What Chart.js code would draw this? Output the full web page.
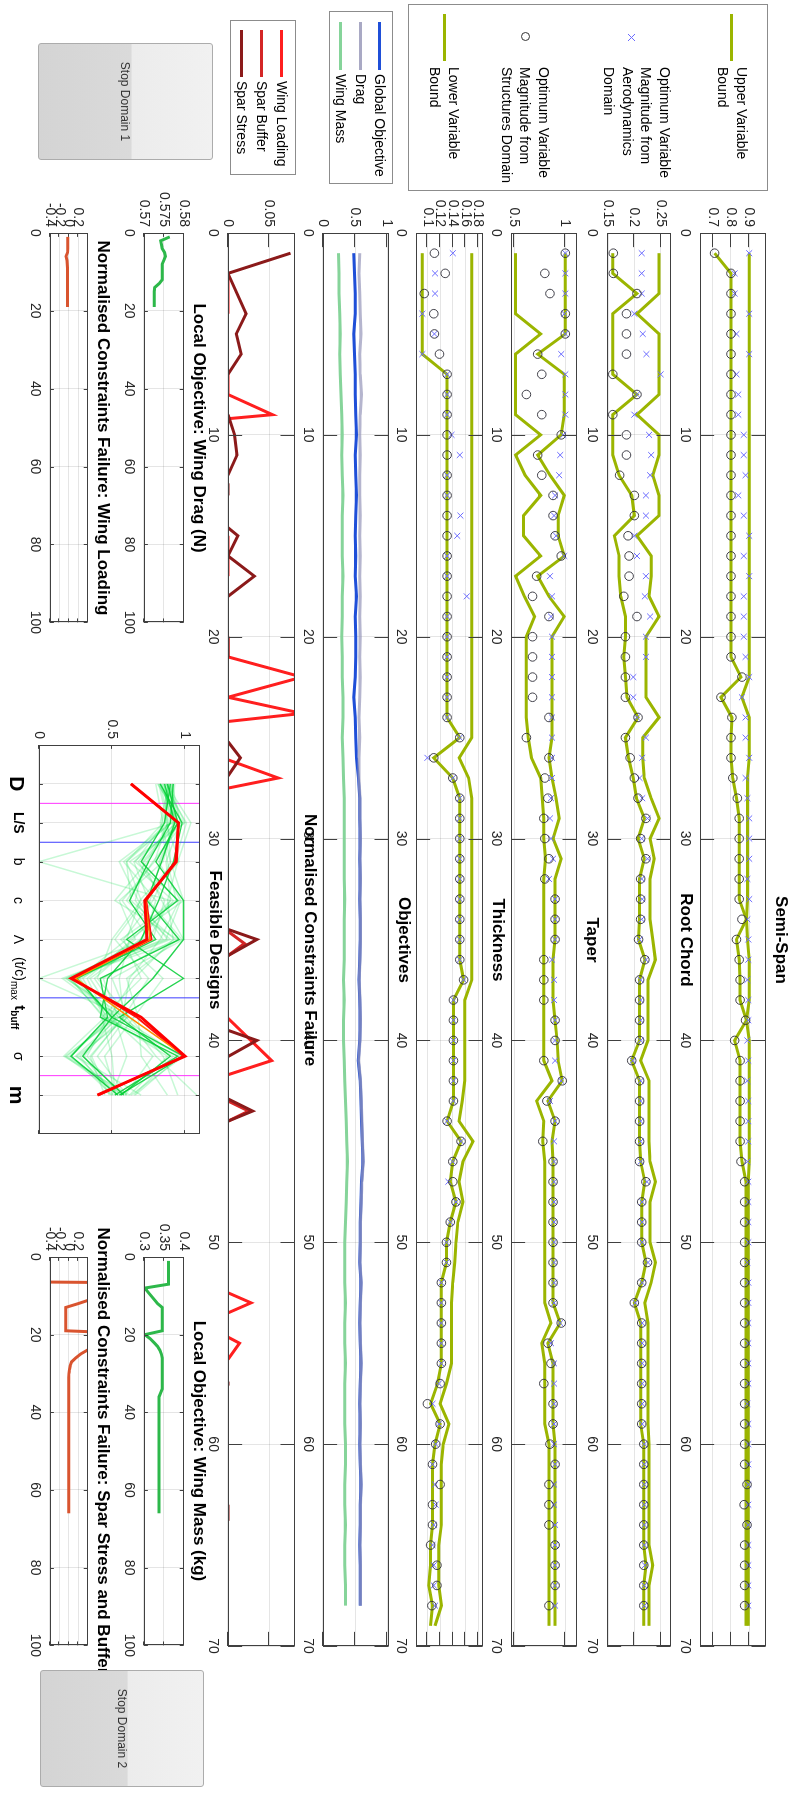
<!DOCTYPE html>
<html>
<head>
<meta charset="utf-8">
<script src="https://cdn.jsdelivr.net/npm/chart.js"></script>
<style>
html, body { margin: 0; padding: 0; background: #fff; overflow: hidden; }
#fig { position: absolute; left: 0; top: 0; width: 1793px; height: 788px; overflow: hidden; background: #fff;
  transform-origin: 0 0; transform: translate(788px, 0) rotate(90deg);
  font-family: "Liberation Sans", Arial, Helvetica, sans-serif; color: #000; }
#fig canvas { position: absolute; }
.ttl { position: absolute; font-weight: bold; font-size: 17px; white-space: nowrap; transform: translate(-50%, -50%); }
.lbox { position: absolute; border: 1px solid #8c8c8c; background: #fff; box-sizing: border-box; }
.ltxt { position: absolute; font-size: 14px; line-height: 18.7px; white-space: pre; color: #000; }
.btn { position: absolute; box-sizing: border-box; border: 1px solid #acacac; border-radius: 3px;
  background: linear-gradient(to bottom, #f1f1f1 0%, #ececec 46%, #dadada 47%, #d4d4d4 100%);
  font-size: 12px; color: #333; display: flex; align-items: center; justify-content: center; z-index: 5; }
</style>
</head>
<body>
<div id="fig"></div>
<script>
// iterations
var itB = [1,2,3,4,5,6,7,8,9,10,11,12,13,14,15,16,17,18,19,20,21,22,23,24,25,26,27,28,29,30,31,32,33,34,35,36,37,38,39,40,41,42,43,44,45,46,47,48,49,50,51,52,53,54,55,56,57,58,59,60,61,62,63,64,65,66,67,68,69];
var itM = [1,2,3,4,5,6,7,8,9,10,11,12,13,14,15,16,17,18,19,20,21,22,23,24,25,26,27,28,29,30,31,32,33,34,35,36,37,38,39,40,41,42,43,44,45,46,47,48,49,50,51,52,53,54,55,56,57,58,59,60,61,62,63,64,65,66,67,68];

// Semi-Span
var ssUpper = [0.9,0.9,0.9,0.9,0.9,0.9,0.9,0.9,0.9,0.9,
  0.9,0.9,0.9,0.9,0.9,0.9,0.9,0.9,0.9,0.9,
  0.9,0.9,0.86,0.9,0.9,0.9,0.89,0.89,0.89,0.89,
  0.89,0.89,0.89,0.885,0.89,0.9,0.9,0.9,0.885,0.9,
  0.9,0.9,0.9,0.9,0.9,0.9,0.895,0.895,0.895,0.895,
  0.895,0.895,0.895,0.895,0.895,0.895,0.895,0.895,0.895,0.895,
  0.895,0.895,0.895,0.895,0.895,0.895,0.895,0.895,0.895];
var ssLower = [0.71,0.8,0.8,0.8,0.8,0.8,0.8,0.8,0.8,0.8,
  0.8,0.8,0.8,0.8,0.8,0.8,0.8,0.8,0.8,0.8,
  0.8,0.855,0.745,0.805,0.8,0.8,0.81,0.83,0.845,0.845,
  0.845,0.845,0.845,0.885,0.83,0.845,0.85,0.85,0.885,0.82,
  0.85,0.85,0.85,0.85,0.85,0.86,0.882,0.882,0.882,0.882,
  0.882,0.882,0.882,0.882,0.882,0.882,0.882,0.882,0.882,0.882,
  0.882,0.882,0.882,0.882,0.882,0.882,0.882,0.882,0.882];
var ssStruct = [0.71,0.8,0.8,0.8,0.8,0.8,0.8,0.8,0.8,0.8,
  0.8,0.8,0.8,0.8,0.8,0.8,0.8,0.8,0.8,0.8,
  0.8,0.86,0.745,0.805,0.8,0.8,0.81,0.835,0.845,0.845,
  0.845,0.845,0.845,0.86,0.83,0.845,0.85,0.85,0.88,0.82,
  0.85,0.85,0.85,0.85,0.85,0.855,0.875,0.875,0.875,0.875,
  0.875,0.875,0.875,0.875,0.875,0.875,0.875,0.875,0.875,0.875,
  0.875,0.888,0.872,0.888,0.875,0.875,0.875,0.875];
var ssAero = [0.9,0.82,0.82,0.9,0.83,0.9,0.83,0.84,0.84,0.87,
  0.87,0.88,0.84,0.87,0.9,0.87,0.9,0.87,0.87,0.87,
  0.88,0.9,0.86,0.88,0.88,0.9,0.88,0.89,0.9,0.9,
  0.9,0.89,0.9,0.89,0.895,0.895,0.89,0.895,0.895,0.89,
  0.895,0.89,0.895,0.895,0.895,0.89,0.895,0.895,0.895,0.895,
  0.89,0.895,0.895,0.895,0.895,0.895,0.895,0.89,0.895,0.895,
  0.895,0.895,0.895,0.895,0.895,0.895,0.895,0.895];

// Root Chord
var rcUpper = [0.247,0.247,0.247,0.205,0.247,0.247,0.247,0.247,0.205,0.247,
  0.247,0.235,0.247,0.247,0.205,0.232,0.232,0.228,0.247,0.222,
  0.222,0.222,0.222,0.247,0.216,0.216,0.219,0.232,0.247,0.23,
  0.238,0.23,0.23,0.23,0.235,0.24,0.226,0.226,0.226,0.226,
  0.212,0.228,0.228,0.228,0.228,0.23,0.24,0.23,0.23,0.23,
  0.24,0.232,0.22,0.226,0.226,0.226,0.226,0.226,0.226,0.228,
  0.228,0.228,0.228,0.228,0.228,0.235,0.228,0.228,0.228];
var rcLower = [0.159,0.159,0.205,0.159,0.159,0.159,0.159,0.205,0.159,0.159,
  0.159,0.171,0.195,0.2,0.162,0.171,0.171,0.174,0.183,0.183,
  0.18,0.183,0.186,0.207,0.183,0.189,0.198,0.204,0.219,0.207,
  0.219,0.21,0.21,0.21,0.208,0.22,0.21,0.21,0.21,0.21,
  0.195,0.21,0.21,0.21,0.21,0.212,0.22,0.214,0.214,0.214,
  0.222,0.214,0.2,0.212,0.212,0.212,0.212,0.212,0.212,0.218,
  0.218,0.218,0.218,0.218,0.218,0.222,0.218,0.218,0.218];
var rcStruct = [0.16,0.16,0.205,0.185,0.185,0.185,0.159,0.205,0.159,0.185,
  0.185,0.172,0.2,0.2,0.188,0.19,0.19,0.18,0.205,0.183,
  0.183,0.183,0.183,0.207,0.183,0.192,0.2,0.207,0.222,0.212,
  0.222,0.212,0.212,0.212,0.208,0.22,0.21,0.21,0.21,0.21,
  0.195,0.21,0.21,0.21,0.21,0.21,0.222,0.214,0.214,0.214,
  0.225,0.214,0.2,0.214,0.214,0.214,0.214,0.214,0.214,0.218,
  0.218,0.218,0.218,0.218,0.218,0.218,0.218,0.218];
var rcAero = [0.214,0.214,0.214,0.2,0.216,0.223,0.25,0.205,0.2,0.228,
  0.232,0.23,0.222,0.222,0.2,0.205,0.222,0.22,0.23,0.222,
  0.222,0.198,0.198,0.205,0.222,0.215,0.21,0.215,0.225,0.214,
  0.225,0.214,0.215,0.214,0.21,0.222,0.212,0.212,0.212,0.212,
  0.197,0.212,0.212,0.212,0.212,0.212,0.224,0.215,0.215,0.215,
  0.226,0.215,0.202,0.215,0.215,0.215,0.215,0.215,0.215,0.219,
  0.219,0.219,0.219,0.219,0.219,0.22,0.219,0.219];

// Taper
var tpUpper = [1.0,1.0,1.0,1.0,1.0,0.73,0.99,0.99,0.99,0.96,
  0.73,0.85,0.99,0.93,0.93,0.99,0.73,0.84,0.99,0.87,
  0.87,0.87,0.87,0.87,0.87,0.84,0.87,0.91,0.94,0.88,
  0.96,0.9,0.9,0.9,0.9,0.88,0.88,0.88,0.9,0.92,
  0.93,0.97,0.83,0.9,0.87,0.88,0.88,0.88,0.88,0.88,
  0.88,0.88,0.88,0.95,0.83,0.88,0.88,0.88,0.88,0.9,
  0.9,0.9,0.9,0.9,0.9,0.9,0.9,0.9,0.9];
var tpLower = [0.515,0.515,0.515,0.515,0.76,0.515,0.515,0.515,0.515,0.76,
  0.515,0.607,0.76,0.592,0.592,0.76,0.515,0.6,0.7,0.62,
  0.62,0.62,0.62,0.62,0.638,0.67,0.76,0.776,0.79,0.79,
  0.807,0.79,0.79,0.79,0.79,0.79,0.79,0.79,0.79,0.79,
  0.79,0.87,0.72,0.79,0.78,0.8,0.8,0.8,0.8,0.8,
  0.8,0.8,0.8,0.86,0.77,0.8,0.8,0.8,0.8,0.84,
  0.84,0.84,0.84,0.84,0.84,0.84,0.84,0.84,0.84];
var tpStruct = [1.0,0.8,0.85,1.0,1.0,0.73,0.77,0.62,0.77,0.96,
  0.73,0.77,0.88,0.88,0.9,0.96,0.72,0.68,0.84,0.68,
  0.68,0.68,0.68,0.84,0.62,0.84,0.8,0.83,0.79,0.8,
  0.84,0.8,0.9,0.9,0.9,0.79,0.79,0.79,0.9,0.9,
  0.79,0.97,0.82,0.9,0.78,0.88,0.88,0.88,0.88,0.88,
  0.88,0.88,0.88,0.96,0.83,0.86,0.79,0.88,0.88,0.85,
  0.9,0.84,0.84,0.84,0.9,0.9,0.9,0.84];
var tpAero = [1.0,1.0,1.0,0.99,1.0,0.96,1.0,1.0,1.0,0.98,
  0.95,0.94,0.9,0.89,0.91,0.99,0.85,0.87,0.86,0.87,
  0.87,0.87,0.87,0.87,0.87,0.87,0.87,0.86,0.85,0.86,
  0.88,0.84,0.9,0.9,0.9,0.87,0.89,0.89,0.9,0.9,
  0.9,0.96,0.85,0.9,0.89,0.89,0.89,0.89,0.89,0.89,
  0.89,0.89,0.89,0.95,0.86,0.89,0.89,0.89,0.89,0.89,
  0.9,0.89,0.89,0.9,0.9,0.9,0.9,0.9];

// Thickness
var thUpper = [0.17,0.17,0.17,0.17,0.17,0.17,0.17,0.17,0.17,0.17,
  0.17,0.17,0.17,0.17,0.17,0.17,0.17,0.17,0.17,0.17,
  0.17,0.17,0.17,0.17,0.17,0.15,0.165,0.17,0.17,0.17,
  0.17,0.17,0.17,0.17,0.17,0.17,0.17,0.159,0.159,0.159,
  0.159,0.159,0.155,0.15,0.172,0.156,0.15,0.156,0.148,0.145,
  0.143,0.14,0.138,0.138,0.138,0.138,0.13,0.12,0.134,0.125,
  0.122,0.122,0.122,0.122,0.118,0.118,0.118,0.122,0.112];
var thLower = [0.092,0.092,0.092,0.092,0.092,0.092,0.131,0.131,0.131,0.131,
  0.131,0.131,0.131,0.131,0.131,0.131,0.131,0.131,0.131,0.131,
  0.131,0.131,0.131,0.131,0.151,0.11,0.14,0.151,0.151,0.151,
  0.151,0.151,0.151,0.151,0.151,0.151,0.157,0.141,0.141,0.141,
  0.141,0.141,0.141,0.131,0.153,0.14,0.136,0.145,0.136,0.13,
  0.13,0.122,0.122,0.122,0.122,0.122,0.116,0.105,0.12,0.112,
  0.108,0.108,0.108,0.108,0.105,0.105,0.102,0.108,0.105];
var thStruct = [0.111,0.128,0.095,0.11,0.111,0.119,0.131,0.131,0.131,0.131,
  0.131,0.131,0.131,0.131,0.131,0.131,0.131,0.131,0.131,0.131,
  0.131,0.131,0.131,0.131,0.151,0.11,0.14,0.151,0.151,0.151,
  0.151,0.151,0.151,0.151,0.151,0.151,0.157,0.141,0.141,0.141,
  0.141,0.141,0.141,0.131,0.153,0.14,0.14,0.145,0.136,0.13,
  0.13,0.122,0.122,0.122,0.122,0.122,0.12,0.1,0.12,0.113,
  0.108,0.12,0.108,0.108,0.105,0.115,0.115,0.107];
var thAero = [0.14,0.112,0.112,0.092,0.111,0.092,0.131,0.131,0.131,0.138,
  0.151,0.131,0.131,0.152,0.147,0.131,0.131,0.162,0.131,0.131,
  0.131,0.131,0.131,0.131,0.151,0.1,0.14,0.151,0.151,0.151,
  0.151,0.151,0.151,0.151,0.151,0.151,0.157,0.141,0.141,0.141,
  0.141,0.141,0.141,0.131,0.153,0.14,0.133,0.145,0.136,0.13,
  0.13,0.122,0.122,0.122,0.122,0.122,0.118,0.108,0.118,0.113,
  0.108,0.112,0.113,0.11,0.108,0.11,0.11,0.112];

// Objectives
var objGlobal = [0.48,0.49,0.5,0.5,0.48,0.49,0.5,0.5,0.51,0.52,
  0.5,0.51,0.52,0.51,0.5,0.51,0.5,0.52,0.5,0.51,
  0.51,0.5,0.48,0.5,0.51,0.52,0.55,0.57,0.57,0.58,
  0.57,0.58,0.57,0.58,0.58,0.57,0.56,0.57,0.58,0.57,
  0.55,0.58,0.59,0.6,0.61,0.62,0.6,0.59,0.58,0.58,
  0.57,0.59,0.58,0.57,0.58,0.59,0.58,0.57,0.58,0.57,
  0.58,0.59,0.58,0.58,0.57,0.58,0.58,0.58];
var objDrag = [0.57,0.56,0.57,0.58,0.59,0.57,0.58,0.6,0.58,0.57,
  0.58,0.57,0.57,0.58,0.57,0.58,0.57,0.58,0.57,0.58,
  0.57,0.58,0.57,0.56,0.57,0.56,0.56,0.575,0.575,0.585,
  0.575,0.585,0.575,0.585,0.585,0.575,0.565,0.575,0.585,0.575,
  0.555,0.585,0.595,0.605,0.615,0.625,0.605,0.595,0.585,0.585,
  0.575,0.595,0.585,0.575,0.585,0.595,0.585,0.575,0.585,0.575,
  0.585,0.595,0.585,0.585,0.575,0.585,0.585,0.585];
var objMass = [0.24,0.25,0.25,0.26,0.27,0.26,0.27,0.28,0.29,0.3,
  0.29,0.3,0.31,0.3,0.3,0.3,0.31,0.3,0.3,0.29,
  0.3,0.3,0.31,0.31,0.3,0.31,0.32,0.33,0.33,0.33,
  0.33,0.33,0.34,0.33,0.33,0.33,0.32,0.33,0.32,0.32,
  0.33,0.34,0.35,0.36,0.37,0.38,0.37,0.36,0.35,0.34,
  0.34,0.34,0.35,0.34,0.34,0.35,0.34,0.34,0.34,0.35,
  0.35,0.34,0.34,0.35,0.34,0.34,0.35,0.35];

// Normalised constraints failure (null = break in line)
var wlX = [2,4,null, 7,8,9,9.2,null, 15,17,null, 20,21,22,23,23.8,24.2,null, 26.1,27,27.5,null, 38.9,41,41.7,null, 52.5,53,53.5,null, 54.7,55,55.8];
var wlY = [0,0,null, 0,0,0.054,0,null, 0,0,null, 0,0,0.09,0,0.09,0,null, 0,0.061,0,null, 0,0.053,0,null, 0,0.028,0,null, 0,0.014,0];
var sbX = [34.6,35.2,35.8,null, 43,43.5,44];
var sbY = [0,0.02,0,null, 0,0.025,0];
var stX = [1,2,4,5,6,7,null, 9,10,11,12,null, 12.4,13,null, 14.6,15,16,17,18,null, 20,21,null, 25.2,26,26.9,null, 34.5,35,35.8,null, 39.5,40,40.8,null, 42.9,43.5,44,null, 56.9,57.1,null, 63,63.8];
var stY = [0.076,0,0.022,0.01,0.016,0,null, 0,0.008,0.011,0,null, 0,0,null, 0,0.012,0,0.032,0,null, 0,0,null, 0,0.015,0,null, 0,0.035,0,null, 0,0.035,0,null, 0,0.03,0,null, 0,0,null, 0,0];

// Local optimisations
var it19 = [1,2,3,4,5,6,7,8,9,10,11,12,13,14,15,16,17,18,19];
var dragLocal = [0.5765,0.5742,0.5744,0.5746,0.5752,0.5754,0.575,0.5746,0.5746,0.5746,0.5746,0.5746,0.5738,0.5727,0.5726,0.5726,0.5726,0.5726,0.5726];
var wingLoadLocal = [-0.02,-0.02,-0.02,-0.02,-0.025,-0.06,-0.04,-0.035,-0.03,-0.03,-0.03,-0.03,-0.03,-0.03,-0.03,-0.03,-0.03,-0.03,-0.03];
var it66 = [1,2,3,4,5,6,7,8,9,10,11,12,13,14,15,16,17,18,19,20,21,22,23,24,25,26,27,28,29,30,31,32,33,34,35,36,37,38,39,40,41,42,43,44,45,46,47,48,49,50,51,52,53,54,55,56,57,58,59,60,61,62,63,64,65,66];
var massLocal = [0.362,0.362,0.362,0.362,0.362,0.362,0.362,0.302,0.31,0.318,
  0.326,0.334,0.346,0.346,0.346,0.346,0.346,0.346,0.346,0.302,
  0.315,0.325,0.334,0.34,0.344,0.346,0.346,0.346,0.346,0.346,
  0.346,0.346,0.346,0.346,0.342,0.338,0.338,0.338,0.338,0.338,
  0.338,0.338,0.338,0.338,0.338,0.338,0.338,0.338,0.338,0.338,
  0.338,0.338,0.338,0.338,0.338,0.338,0.338,0.338,0.338,0.338,
  0.338,0.338,0.338,0.338,0.338,0.338];
var sparLocal = [-5,-5,-5,-5,-5,-5,5,1,1,1,
  0.45,0.2,-0.067,-0.067,-0.067,-0.067,-0.067,-0.067,-0.067,2,
  1,1,1,0.39,0.25,0.15,0.06,0.03,0.015,0.005,
  0,0,0,0,0,0,0,0,0,0,
  0,0,0,0,0,0,0,0,0,0,
  0,0,0,0,0,0,0,0,0,0,
  0,0,0,0,0,0];

// Feasible designs (parallel coordinates)
var fdCats = [1,2,3,4,5,6,7,8,9];
var fdLabels = ['D','L/S','b','c','\u039B','(t/c)','t','\u03C3','m'];
var fdSubs = ['','','','','','max','buff','',''];
var fdDividers = [1.5,2.5,6.5,8.5];
var fdBest = [0.63,0.955,0.94,0.725,0.74,0.22,0.7,1.0,0.4];
var fdBest2 = [0.63,0.955,0.932,0.735,0.77,0.23,0.67,0.99,0.41];
var fdOrange = [0.63,0.955,0.94,0.73,0.76,0.25,0.62,1.0,0.4];
var fdDark = [
  [0.88,0.95,0.8,0.99,0.99,0.78,0.5,0.3,0.58],
  [0.9,0.86,0.7,0.95,0.6,0.99,0.55,0.9,0.56],
  [0.83,0.98,0.92,0.82,0.7,0.47,0.42,0.95,0.52],
  [0.92,0.9,0.75,0.62,0.8,0.26,0.5,0.99,0.55],
  [0.86,0.93,0.84,0.74,0.96,0.42,0.47,0.22,0.54]
];
var fdLight = [
  [0.85,0.93,0.0,0.9,0.75,0.0,0.6,0.4,0.6],
  [0.8,0.85,0.6,0.7,0.5,0.4,0.62,0.85,0.95],
  [0.87,1.04,0.95,0.88,0.92,0.65,0.48,0.22,0.5],
  [0.84,0.92,0.85,0.55,0.66,0.3,0.45,0.17,0.62],
  [0.91,0.97,0.65,0.75,0.98,0.2,0.55,0.25,0.7],
  [0.86,0.88,0.9,0.99,0.62,0.55,0.58,0.35,0.45],
  [0.82,0.96,0.72,0.66,0.85,0.18,0.6,0.8,1.08],
  [0.89,0.83,0.88,0.94,0.56,0.85,0.65,0.45,0.53],
  [0.93,0.91,0.58,0.8,0.72,0.35,0.52,0.6,0.5],
  [0.81,0.99,0.78,0.6,0.9,0.22,0.44,0.92,0.65],
  [0.88,0.87,0.96,0.72,0.52,0.75,0.58,0.28,0.49],
  [0.84,0.94,0.68,0.86,0.78,0.28,0.47,0.33,0.56],
  [0.9,0.95,0.82,0.97,0.87,0.16,0.52,0.19,0.6],
  [0.83,0.89,0.74,0.52,0.95,0.6,0.68,0.7,0.88],
  [0.87,1.0,0.62,0.92,0.69,0.38,0.56,0.97,0.66],
  [0.92,0.84,0.9,0.78,0.58,0.7,0.43,0.5,0.52],
  [0.86,0.9,0.55,0.68,0.88,0.24,0.5,0.21,0.57],
  [0.89,0.97,0.87,0.9,0.64,0.33,0.46,0.88,0.62],
  [0.82,0.88,0.79,0.57,0.76,0.19,0.53,0.31,0.51],
  [0.91,0.93,0.71,0.84,0.99,0.5,0.61,0.26,0.54],
  [0.85,1.01,0.93,0.69,0.6,0.27,0.49,0.78,0.59],
  [0.88,0.86,0.66,0.96,0.83,0.62,0.57,0.36,0.48],
  [0.83,0.95,0.83,0.76,0.71,0.21,0.45,0.99,0.63],
  [0.9,0.9,0.6,0.63,0.93,0.44,0.54,0.18,0.55]
];

var FONT = '"Liberation Sans", Arial, Helvetica, sans-serif';
Chart.defaults.font.family = FONT;
Chart.defaults.color = '#262626';

var BOUND = '#9bb500';
var GRID = 'rgba(0,0,0,0.1)';
var fig = document.getElementById('fig');

function pts(xs, ys) {
  var out = [], lastX = 0;
  for (var i = 0; i < ys.length; i++) {
    if (xs[i] !== null) lastX = xs[i];
    out.push({x: lastX, y: ys[i]});
  }
  return out;
}

// MATLAB-like box with inward ticks on all four sides
var matAxes = {
  id: 'matAxes',
  afterDraw: function (chart) {
    var ctx = chart.ctx, a = chart.chartArea, sx = chart.scales.x, sy = chart.scales.y;
    var L = Math.max(a.right - a.left, a.bottom - a.top) * 0.01;
    ctx.save();
    ctx.strokeStyle = '#404040';
    ctx.lineWidth = 1;
    ctx.beginPath();
    sx.ticks.forEach(function (t) {
      var p = Math.round(sx.getPixelForValue(t.value)) + 0.5;
      ctx.moveTo(p, a.bottom); ctx.lineTo(p, a.bottom - L);
      ctx.moveTo(p, a.top); ctx.lineTo(p, a.top + L);
    });
    sy.ticks.forEach(function (t) {
      var p = Math.round(sy.getPixelForValue(t.value)) + 0.5;
      ctx.moveTo(a.left, p); ctx.lineTo(a.left + L, p);
      ctx.moveTo(a.right, p); ctx.lineTo(a.right - L, p);
    });
    ctx.stroke();
    ctx.strokeRect(Math.round(a.left) + 0.5, Math.round(a.top) + 0.5, Math.round(a.right - a.left) - 1, Math.round(a.bottom - a.top) - 1);
    ctx.restore();
  }
};

function axis(kind, s, size) {
  return {
    type: 'linear',
    position: kind === 'x' ? 'bottom' : 'left',
    min: s.min, max: s.max,
    afterBuildTicks: function (sc) { sc.ticks = s.ticks.map(function (v) { return {value: v}; }); },
    afterFit: function (sc) { if (kind === 'x') sc.height = size; else sc.width = size; },
    grid: {color: GRID, drawTicks: false, lineWidth: 1},
    border: {display: false},
    ticks: {display: s.show !== false, autoSkip: false, maxRotation: 0, minRotation: 0,
      padding: kind === 'x' ? 7 : 6, color: '#262626', font: {size: 14},
      callback: function (v) { return String(v); }}
  };
}

function panel(box, xs, ys, datasets, extra) {
  var L = 90, T = 12, R = 18, B = 34;
  var cv = document.createElement('canvas');
  cv.width = box[2] - box[0] + L + R;
  cv.height = box[3] - box[1] + T + B;
  cv.style.left = (box[0] - L) + 'px';
  cv.style.top = (box[1] - T) + 'px';
  fig.appendChild(cv);
  return new Chart(cv, {
    type: 'line',
    data: {datasets: datasets},
    options: {
      responsive: false, animation: false, events: [],
      layout: {padding: {left: 0, right: R, top: T, bottom: 0}},
      plugins: {legend: {display: false}, tooltip: {enabled: false}},
      scales: {x: axis('x', xs, B), y: axis('y', ys, L)}
    },
    plugins: [matAxes].concat(extra || [])
  });
}

function lineDs(data, color, width) {
  return {data: data, borderColor: color, borderWidth: width, pointRadius: 0, tension: 0, fill: false, spanGaps: false};
}
function markDs(data, style, color, r) {
  return {data: data, showLine: false, pointStyle: style, pointRadius: r, pointBorderColor: color,
    pointBackgroundColor: 'rgba(0,0,0,0)', pointBorderWidth: 1, borderColor: color};
}

var iterAxis = {min: 0, max: 70, ticks: [0,10,20,30,40,50,60,70]};

function designPanel(box, yAxis, up, lo, st, ae) {
  panel(box, iterAxis, yAxis, [
    markDs(pts(itM, st), 'circle', 'rgba(45,45,55,0.9)', 4.3),
    markDs(pts(itM, ae), 'crossRot', '#6b6bff', 4.2),
    lineDs(pts(itB, up), BOUND, 3),
    lineDs(pts(itB, lo), BOUND, 3)
  ]);
}

designPanel([233, 20, 1646, 88], {min: 0.63, max: 0.99, ticks: [0.7, 0.8, 0.9]}, ssUpper, ssLower, ssStruct, ssAero);
designPanel([233, 115, 1646, 181], {min: 0.148, max: 0.269, ticks: [0.15, 0.2, 0.25]}, rcUpper, rcLower, rcStruct, rcAero);
designPanel([233, 209, 1646, 277], {min: 0.47, max: 1.11, ticks: [0.5, 1]}, tpUpper, tpLower, tpStruct, tpAero);
designPanel([233, 303, 1646, 372], {min: 0.082, max: 0.187, ticks: [0.1, 0.12, 0.14, 0.16, 0.18]}, thUpper, thLower, thStruct, thAero);

panel([233, 397, 1646, 465], iterAxis, {min: 0, max: 1.02, ticks: [0, 0.5, 1]}, [
  lineDs(pts(itM, objDrag), 'rgba(150,150,185,0.7)', 3),
  lineDs(pts(itM, objGlobal), '#1f4fd8', 3),
  lineDs(pts(itM, objMass), '#86d49a', 3)
]);

panel([233, 491, 1646, 560], iterAxis, {min: 0, max: 0.081, ticks: [0, 0.05]}, [
  lineDs(pts(stX, stY), '#8b1a1a', 3),
  lineDs(pts(sbX, sbY), '#d42626', 3),
  lineDs(pts(wlX, wlY), '#ff1f1f', 3)
]);

var localAxis = {min: 0, max: 100, ticks: [0, 20, 40, 60, 80, 100]};
var consAxis = {min: -0.4, max: 0.4, ticks: [-0.4, -0.2, 0, 0.2]};

panel([233, 602, 623, 644], localAxis, {min: 0.57, max: 0.58, ticks: [0.57, 0.575, 0.58]}, [
  lineDs(pts(it19, dragLocal), '#2db84a', 3)
]);
panel([233, 698, 623, 738], localAxis, consAxis, [
  lineDs(pts(it19, wingLoadLocal), '#d9542f', 3)
]);
panel([1257, 602, 1646, 644], localAxis, {min: 0.3, max: 0.4, ticks: [0.3, 0.35, 0.4]}, [
  lineDs(pts(it66, massLocal), '#2db84a', 3)
]);
panel([1257, 698, 1646, 738], localAxis, consAxis, [
  lineDs(pts(it66, sparLocal), '#d9542f', 3)
]);

// category labels under the parallel-coordinates panel
var fdStyle = [
  {main: 'bold 21px ' + FONT, sub: '', dy: 29},
  {main: 'bold 14px ' + FONT, sub: '', dy: 25},
  {main: '14px ' + FONT, sub: '', dy: 25},
  {main: '14px ' + FONT, sub: '', dy: 25},
  {main: '14px ' + FONT, sub: '', dy: 25},
  {main: '14px ' + FONT, sub: '10px ' + FONT, dy: 24},
  {main: 'bold 15px ' + FONT, sub: 'bold 10px ' + FONT, dy: 24},
  {main: '14px ' + FONT, sub: '', dy: 25},
  {main: 'bold 21px ' + FONT, sub: '', dy: 29}
];
var catLabels = {
  id: 'catLabels',
  afterDraw: function (chart) {
    var ctx = chart.ctx, a = chart.chartArea, sx = chart.scales.x;
    ctx.save();
    ctx.fillStyle = '#000';
    ctx.textBaseline = 'alphabetic';
    fdLabels.forEach(function (lab, i) {
      var st = fdStyle[i], px = sx.getPixelForValue(fdCats[i]);
      ctx.font = st.main;
      var w1 = ctx.measureText(lab).width, w2 = 0;
      if (fdSubs[i]) { ctx.font = st.sub; w2 = ctx.measureText(fdSubs[i]).width; }
      var left = px - (w1 + w2) / 2;
      ctx.font = st.main;
      ctx.fillText(lab, left, a.bottom + st.dy);
      if (fdSubs[i]) { ctx.font = st.sub; ctx.fillText(fdSubs[i], left + w1, a.bottom + st.dy + 4); }
    });
    ctx.restore();
  }
};

var fdSets = [];
fdSets.push(lineDs(pts(fdCats, fdBest), '#ff0000', 3));
fdSets.push(lineDs(pts(fdCats, fdOrange), '#ff8c00', 1.5));
fdSets.push(lineDs(pts(fdCats, fdBest2), '#ff1010', 2));
fdDark.forEach(function (d) { fdSets.push(lineDs(pts(fdCats, d), 'rgba(0,205,50,0.85)', 1.4)); });
fdLight.forEach(function (d) { fdSets.push(lineDs(pts(fdCats, d), 'rgba(0,225,70,0.22)', 1.5)); });
var divColors = ['#ff33ff', '#3c3cff', '#3c3cff', '#ff33ff'];
fdDividers.forEach(function (v, i) {
  fdSets.push(lineDs(pts([v, v], [0, 1.1]), divColors[i], 1));
});
panel([745, 586, 1134, 749], {min: 0, max: 10, ticks: fdCats, show: false},
  {min: 0, max: 1.1, ticks: [0, 0.5, 1]}, fdSets, [catLabels]);

// titles
function add(tag, cls, css, text) {
  var d = document.createElement(tag);
  if (cls) d.className = cls;
  d.style.cssText = css;
  if (text !== undefined) d.textContent = text;
  fig.appendChild(d);
  return d;
}
var titles = [
  ['Semi-Span', 940, 7], ['Root Chord', 940, 102], ['Taper', 940, 196], ['Thickness', 940, 290],
  ['Objectives', 940, 384], ['Normalised Constraints Failure', 940, 478],
  ['Local Objective: Wing Drag (N)', 428, 589], ['Normalised Constraints Failure: Wing Loading', 428, 685],
  ['Feasible Designs', 940, 573], ['Local Objective: Wing Mass (kg)', 1451, 589],
  ['Normalised Constraints Failure: Spar Stress and Buffer', 1451, 685]
];
titles.forEach(function (t) { add('div', 'ttl', 'left:' + t[1] + 'px;top:' + t[2] + 'px;', t[0]); });

// legend: design variables
add('div', 'lbox', 'left:4px;top:20px;width:187px;height:360px;');
add('div', '', 'position:absolute;left:14px;top:55px;width:47px;height:3px;background:' + BOUND + ';');
add('div', 'ltxt', 'left:67px;top:37px;', 'Upper Variable\nBound');
var svgX = add('div', '', 'position:absolute;left:33px;top:147px;width:9px;height:9px;');
svgX.innerHTML = '<svg width="9" height="9"><line x1="1" y1="1" x2="8" y2="8" stroke="#6b6bff"/><line x1="8" y1="1" x2="1" y2="8" stroke="#6b6bff"/></svg>';
add('div', 'ltxt', 'left:67px;top:114px;', 'Optimum Variable\nMagnitude from\nAerodynamics\nDomain');
add('div', '', 'position:absolute;left:32px;top:258px;width:9px;height:9px;border:1px solid #333;border-radius:50%;box-sizing:border-box;');
add('div', 'ltxt', 'left:67px;top:235px;', 'Optimum Variable\nMagnitude from\nStructures Domain');
add('div', '', 'position:absolute;left:14px;top:342px;width:47px;height:3px;background:' + BOUND + ';');
add('div', 'ltxt', 'left:67px;top:325px;', 'Lower Variable\nBound');

// legend: objectives
var objLegend = [['Global Objective', '#1f4fd8', 408], ['Drag', '#a9a9c4', 427], ['Wing Mass', '#86d49a', 447]];
add('div', 'lbox', 'left:11px;top:395px;width:173px;height:64px;');
objLegend.forEach(function (e) {
  add('div', '', 'position:absolute;left:22px;top:' + (e[2] - 1) + 'px;width:48px;height:3px;background:' + e[1] + ';');
  add('div', 'ltxt', 'left:74px;top:' + (e[2] - 9.5) + 'px;', e[0]);
});

// legend: constraints
var conLegend = [['Wing Loading', '#ff1f1f', 506], ['Spar Buffer', '#d42626', 526], ['Spar Stress', '#8b1a1a', 546]];
add('div', 'lbox', 'left:20px;top:492px;width:155px;height:66px;');
conLegend.forEach(function (e) {
  add('div', '', 'position:absolute;left:30px;top:' + (e[2] - 1) + 'px;width:47px;height:3px;background:' + e[1] + ';');
  add('div', 'ltxt', 'left:81px;top:' + (e[2] - 9.5) + 'px;', e[0]);
});

// buttons
add('div', 'btn', 'left:43px;top:575px;width:117px;height:175px;', 'Stop Domain 1');
add('div', 'btn', 'left:1670px;top:584px;width:117px;height:164px;', 'Stop Domain 2');
</script>
</body>
</html>
